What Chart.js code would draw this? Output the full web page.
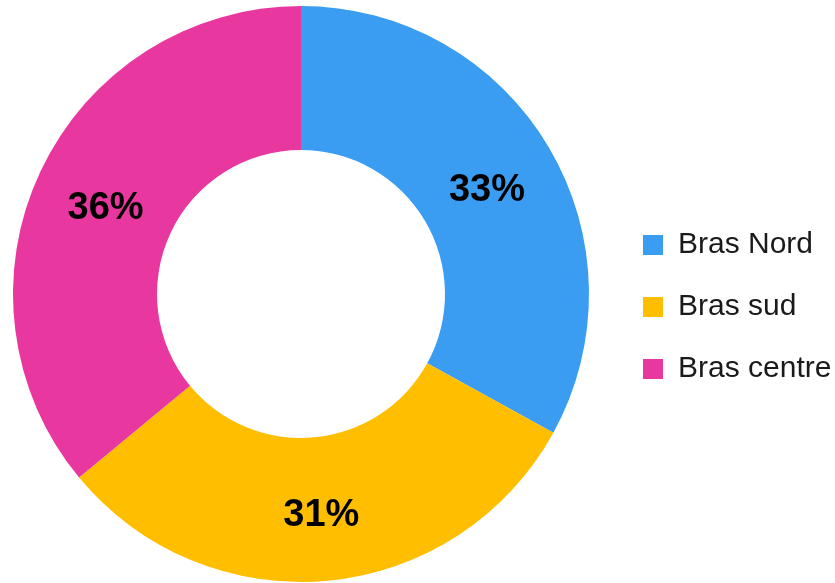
<!DOCTYPE html>
<html>
<head>
<meta charset="utf-8">
<script src="https://cdn.jsdelivr.net/npm/chart.js@4/dist/chart.umd.min.js"></script>
<style>
  body { margin: 0; background: #fff; overflow: hidden; }
  /* canvas is a little wider than the window, shifted left, so the donut sits at x~301 */
  #wrap { width: 844px; height: 583px; margin-left: -9px; position: relative; }
</style>
</head>
<body>
<div id="wrap"><canvas id="ChartBras"></canvas></div>
<script>
// data
const labels = ['Bras Nord', 'Bras sud', 'Bras centre'];
const shares = [33, 31, 36];
const colors = ['#3A9DF2', '#FFBF00', '#E8379F'];

// percentage text in the middle of each slice
const sliceLabels = {
    id: 'sliceLabels',
    afterDatasetsDraw(chart) {
        const ctx = chart.ctx;
        const meta = chart.getDatasetMeta(0);
        ctx.save();
        ctx.font = 'bold 38px "Liberation Sans", Arial, sans-serif';
        ctx.fillStyle = '#000';
        ctx.textAlign = 'center';
        ctx.textBaseline = 'middle';
        meta.data.forEach((arc, i) => {
            const p = arc.tooltipPosition();
            // a few px lower, digits sit under the em middle in the original
            ctx.fillText(shares[i] + '%', p.x, p.y + 6);
        });
        ctx.restore();
    }
};

const ctx = document.getElementById('ChartBras').getContext('2d');
const chartBras = new Chart(ctx, {
    type: 'doughnut',
    data: {
        labels: labels,
        datasets: [{
            data: shares,
            backgroundColor: colors,
            borderWidth: 0
        }]
    },
    options: {
        responsive: true,
        maintainAspectRatio: false,
        animation: false,
        cutout: '50%',
        layout: {
            padding: { left: 0, right: 0, top: 6, bottom: 1 }
        },
        plugins: {
            tooltip: { enabled: false },
            legend: {
                position: 'right',
                maxWidth: 224,
                title: { display: true, text: ' ', font: { size: 10 }, padding: 7 },
                labels: {
                    boxWidth: 20,
                    boxHeight: 20,
                    padding: 32,
                    color: '#1a1a1a',
                    font: { family: '"Liberation Sans", Arial, sans-serif', size: 30 }
                }
            }
        }
    },
    plugins: [sliceLabels]
});
</script>
</body>
</html>
